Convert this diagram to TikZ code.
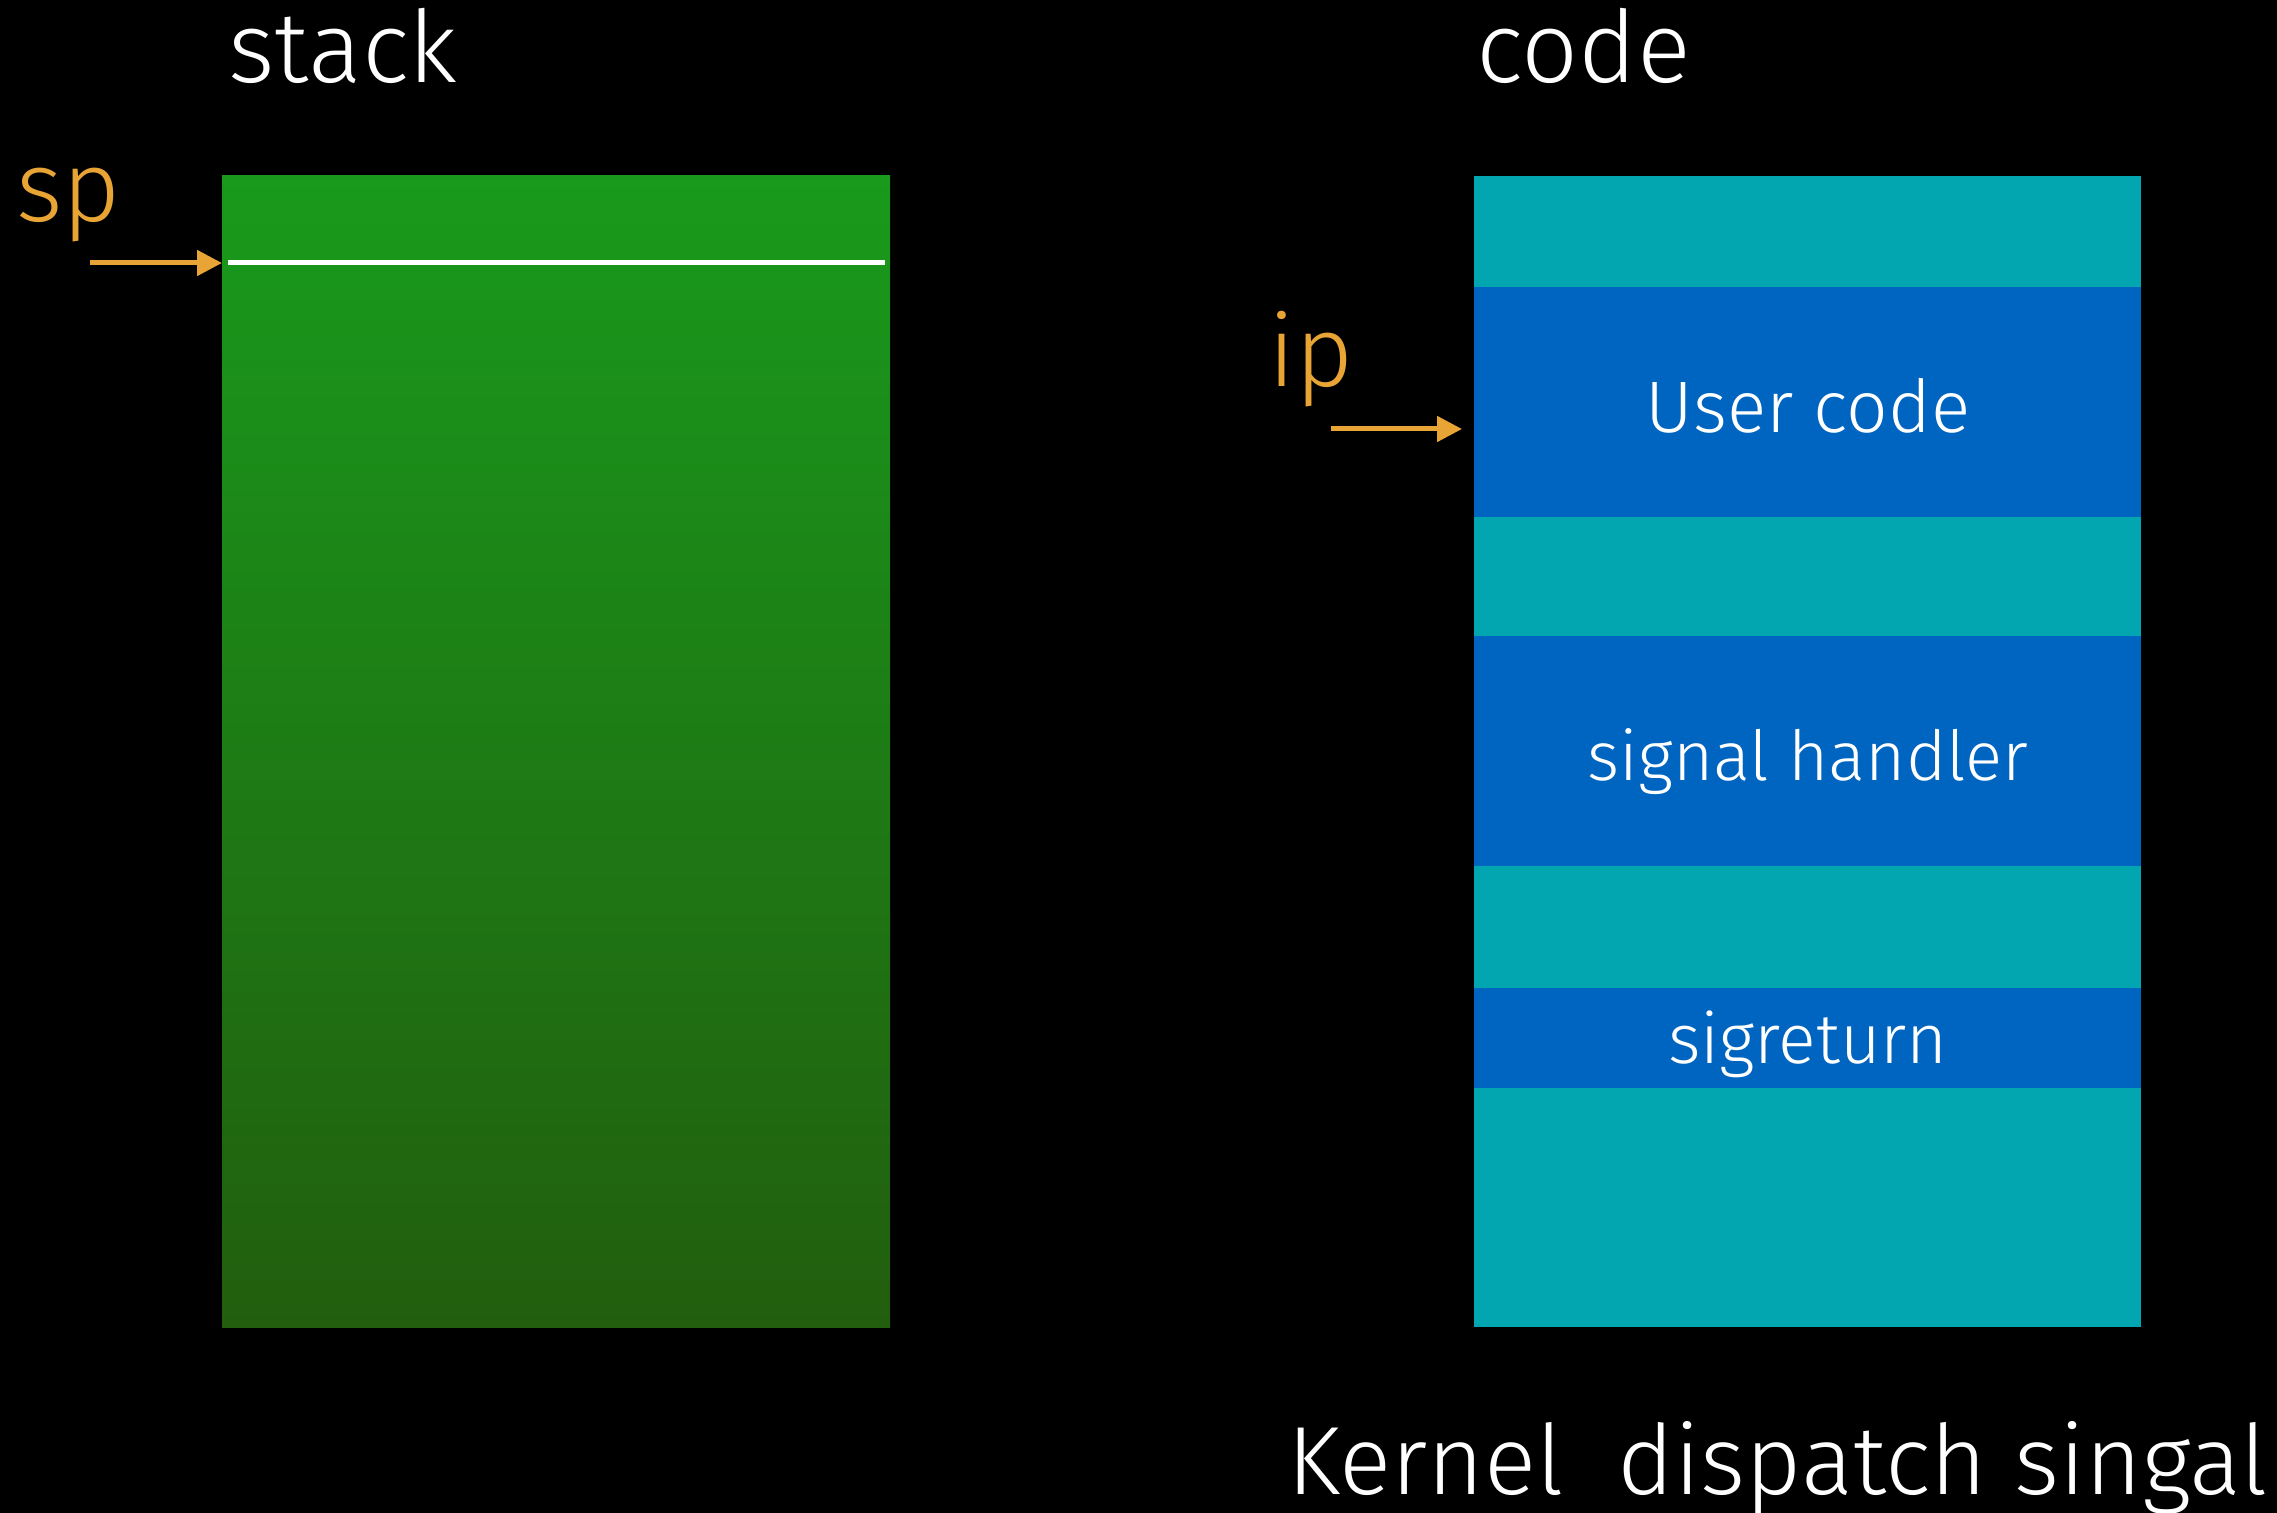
\documentclass[tikz,border=0pt]{standalone}
\usepackage{fontspec}
\setmainfont{Fira Sans Light}
\usetikzlibrary{arrows.meta}
\definecolor{stacktop}{RGB}{25,154,28}
\definecolor{stackbot}{RGB}{34,94,14}
\definecolor{codeteal}{RGB}{2,166,176}
\definecolor{codeblue}{RGB}{0,101,192}
\definecolor{ptrorange}{RGB}{232,164,52}
\begin{document}
\begin{tikzpicture}[x=0.5pt,y=-0.5pt,
  heading/.style={anchor=base west, inner sep=0pt, text=white, font=\fontsize{50}{50}\selectfont},
  ptrlabel/.style={anchor=base west, inner sep=0pt, text=ptrorange, font=\fontsize{50}{50}\selectfont},
  ptrarrow/.style={draw=ptrorange, line width=2.5pt, -{Triangle[length=12.5pt,width=12.5pt]}},
  bandlabel/.style={anchor=base, inner sep=0pt, text=white, font=\fontsize{35}{35}\selectfont},
  tealband/.style={fill=codeteal},
  blueband/.style={fill=codeblue}]
% canvas
\fill[black] (0,0) rectangle (2277,1513);
\useasboundingbox (0,0) rectangle (2277,1513);

% stack column
\shade[top color=stacktop, bottom color=stackbot] (222,176) rectangle (890,1327);
\coordinate (stackleft) at (222,263);
\coordinate (lineend) at (885,263);
\coordinate (linestart) at (228,263);
\draw[white, line width=2.5pt] (linestart) -- (lineend);
\node[heading] (stacktitle) at (228,83) {stack};
\node[ptrlabel] (sp) at (16,222) {sp};
\coordinate (sptail) at (90,263);
\draw[ptrarrow] (sptail) -- (stackleft);

% code column
\fill[tealband] (1474,176) rectangle (2141,287);
\fill[blueband] (1474,287) rectangle (2141,517);
\fill[tealband] (1474,517) rectangle (2141,636);
\fill[blueband] (1474,636) rectangle (2141,866);
\fill[tealband] (1474,866) rectangle (2141,988);
\fill[blueband] (1474,988) rectangle (2141,1088);
\fill[tealband] (1474,1088) rectangle (2141,1327);
\node[heading] (codetitle) at (1476,83) {code};
\node[bandlabel, font=\fontsize{36.5}{36.5}\selectfont] (user) at (1808,433) {User code};
\node[bandlabel, font=\fontsize{34.5}{34.5}\selectfont] (handler) at (1808,781) {signal handler};
\node[bandlabel] (sigret) at (1808,1063) {sigreturn};
\node[ptrlabel] (ip) at (1268,387) {ip};
\coordinate (iptail) at (1331,429);
\coordinate (iphead) at (1462,429);
\draw[ptrarrow] (iptail) -- (iphead);

% caption, its descenders running off the lower edge
\node[heading, font=\fontsize{48.5}{48.5}\selectfont] (caption) at (1287,1494) {Kernel\ \ dispatch singal};
\end{tikzpicture}
\end{document}
